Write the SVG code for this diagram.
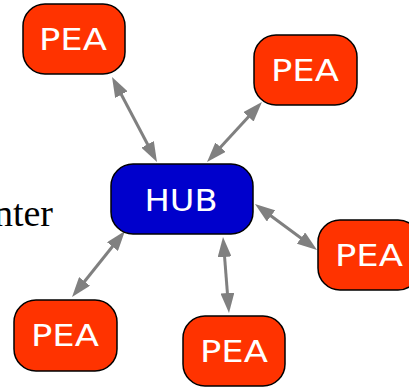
<svg xmlns="http://www.w3.org/2000/svg" width="409" height="387" viewBox="0 0 409 387">
<style>
.pea rect{fill:#ff3300;stroke:#000;stroke-width:1.5}
.hub rect{fill:#0000cc;stroke:#000;stroke-width:1.5}
.lbl{font-family:"DejaVu Sans","Liberation Sans",sans-serif;font-size:30px;fill:#fff;text-anchor:middle}
.edge{stroke:#808080;stroke-width:3;fill:none;marker-start:url(#ah);marker-end:url(#ah)}
</style>
<defs>
<marker id="ah" viewBox="0 0 20 14" refX="10" refY="7" markerWidth="20" markerHeight="14" markerUnits="userSpaceOnUse" orient="auto-start-reverse">
<path d="M0,0 L20,7 L0,14 z" fill="#808080"/>
</marker>
</defs>
<rect width="409" height="387" fill="#fff"/>
<text x="53" y="226" font-family="Liberation Serif, serif" font-size="38" text-anchor="end" fill="#000">nter</text>
<g id="connectors">
<line class="edge" x1="116.7" y1="85.8" x2="152.3" y2="153.2"/>
<line class="edge" x1="255.2" y1="109.4" x2="213.8" y2="154.6"/>
<line class="edge" x1="118.7" y1="238.8" x2="78.3" y2="289.2"/>
<line class="edge" x1="223.8" y1="247" x2="228.2" y2="303"/>
<line class="edge" x1="263" y1="210" x2="309" y2="244"/>
</g>
<g id="pea1" class="pea"><rect x="23" y="4" width="102" height="70" rx="22"/><text class="lbl" x="73" y="50" textLength="68" lengthAdjust="spacingAndGlyphs">PEA</text></g>
<g id="pea2" class="pea"><rect x="254" y="35" width="103" height="70" rx="22"/><text class="lbl" x="305" y="81" textLength="68" lengthAdjust="spacingAndGlyphs">PEA</text></g>
<g id="hub" class="hub"><rect x="111" y="164" width="142" height="70" rx="22"/><text class="lbl" x="181" y="211" textLength="73" lengthAdjust="spacingAndGlyphs">HUB</text></g>
<g id="pea3" class="pea"><rect x="318" y="220" width="102" height="70" rx="22"/><text class="lbl" x="369" y="266" textLength="68" lengthAdjust="spacingAndGlyphs">PEA</text></g>
<g id="pea4" class="pea"><rect x="14" y="300" width="103" height="71" rx="22"/><text class="lbl" x="65" y="346" textLength="68" lengthAdjust="spacingAndGlyphs">PEA</text></g>
<g id="pea5" class="pea"><rect x="183" y="316" width="102" height="70" rx="22"/><text class="lbl" x="234" y="362" textLength="68" lengthAdjust="spacingAndGlyphs">PEA</text></g>
</svg>
